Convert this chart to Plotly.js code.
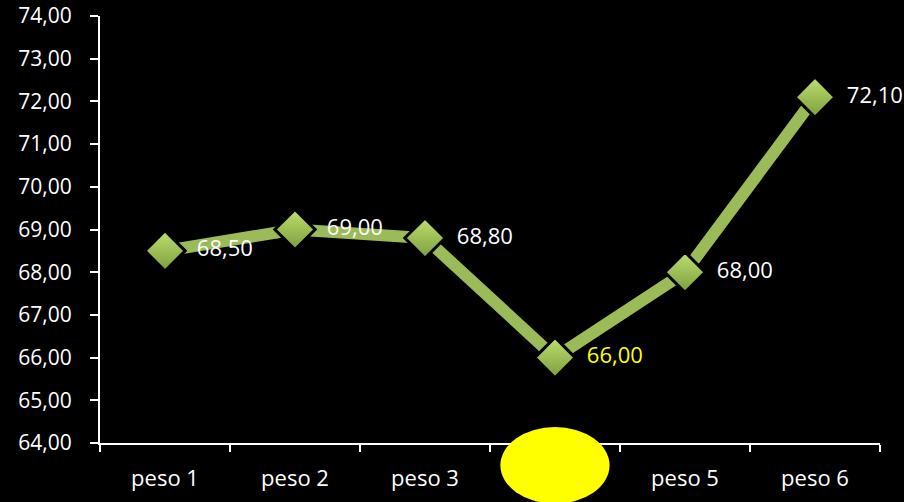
<!DOCTYPE html>
<html><head><meta charset="utf-8">
<script src="https://cdn.plot.ly/plotly-3.0.1.min.js"></script>
<style>html,body{margin:0;padding:0;background:#000;}#c{width:904px;height:502px;}</style>
</head><body><div id="c"></div>
<script>
const categories = ["peso 1", "peso 2", "peso 3", "peso 4", "peso 5", "peso 6"];
const pesoValues = [68.5, 69.0, 68.8, 66.0, 68.0, 72.1];
const labelColors = ["#ffffff", "#ffffff", "#ffffff", "#ffff00", "#ffffff", "#ffffff"];
const yTicks = [64, 65, 66, 67, 68, 69, 70, 71, 72, 73, 74];

const FONT = "Open Sans, Lato, sans-serif";

const trace = {
  type: "scatter",
  mode: "lines+markers+text",
  x: categories,
  y: pesoValues,
  line: { color: "#9bbb59", width: 12 },
  marker: {
    symbol: "diamond",
    size: 31,
    color: "#bde06f",
    gradient: { type: "vertical", color: "#7d9d3c" },
    line: { width: 3, color: "#000000" }
  },
  texttemplate: "\u00a0\u00a0%{y:.2f}",
  textposition: "middle right",
  textfont: { family: FONT, size: 22, color: labelColors },
  cliponaxis: false,
  hoverinfo: "skip"
};

const layout = {
  width: 904, height: 502,
  paper_bgcolor: "#000", plot_bgcolor: "#000",
  margin: { l: 100, r: 24, t: 16, b: 59 },
  separators: ",.",
  showlegend: false,
  font: { family: FONT, color: "#ffffff", size: 21 },
  xaxis: {
    type: "category",
    range: [-0.5, 5.5],
    showgrid: false, zeroline: false,
    showline: true, linecolor: "#ffffff", linewidth: 2,
    ticks: "outside", tickson: "boundaries", ticklen: 7, tickwidth: 2, tickcolor: "#ffffff",
    tickfont: { family: FONT, size: 22, color: "#ffffff" },
    ticklabelstandoff: 15
  },
  yaxis: {
    range: [64, 74],
    tickvals: yTicks,
    tickformat: ".2f",
    showgrid: false, zeroline: false,
    showline: true, linecolor: "#ffffff", linewidth: 2,
    ticks: "outside", ticklen: 8, tickwidth: 2, tickcolor: "#ffffff",
    tickfont: { family: FONT, size: 21, color: "#ffffff" },
    ticklabelstandoff: 14
  },
  shapes: [{
    type: "circle", layer: "above",
    xref: "paper", yref: "paper",
    x0: 0.5133, x1: 0.6533,
    y0: -0.142, y1: 0.0375,
    fillcolor: "#ffff00", line: { width: 0 }
  }]
};

Plotly.newPlot("c", [trace], layout, { staticPlot: true });
</script>
</body></html>
